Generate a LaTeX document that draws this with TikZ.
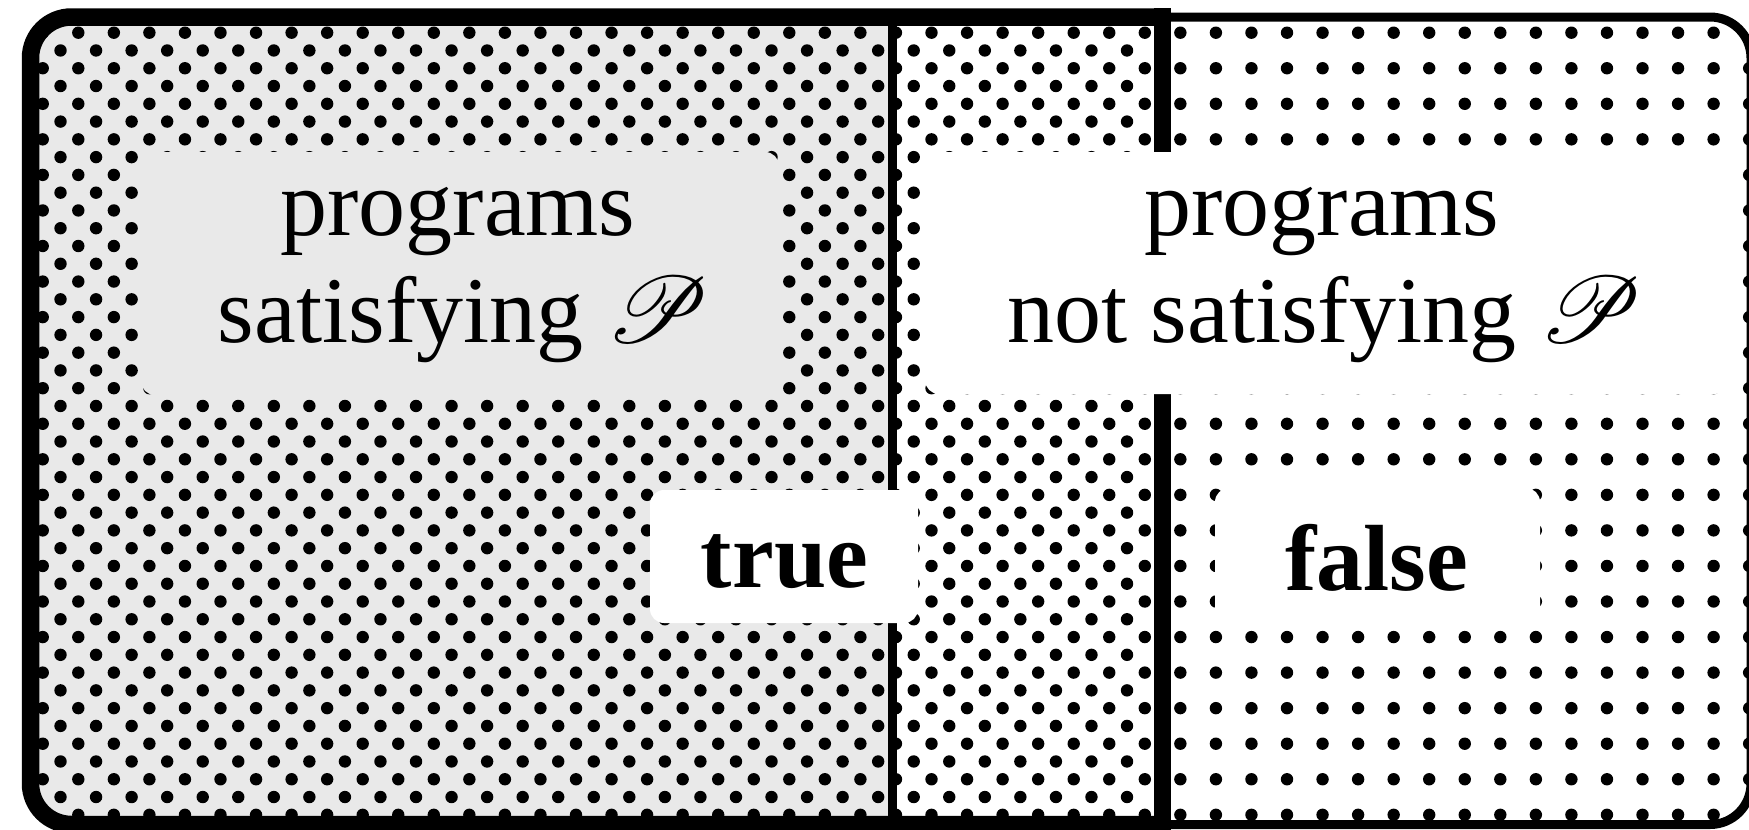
\documentclass[tikz,border=0pt]{standalone}
\usepackage{fontspec}
\setmainfont{Liberation Serif}
\DeclareFontFamily{U}{myrsfs}{\skewchar\font127 }
\DeclareFontShape{U}{myrsfs}{m}{n}{<-> rsfs10}{}
\newcommand\scriptP{{\usefont{U}{myrsfs}{m}{n}P}}
\definecolor{bggray}{RGB}{233,233,233}
\tikzset{
  dotmark/.style={fill=black},
  thinborder/.style={draw=black, line width=9pt},
  thickborder/.style={draw=black, line width=17.5pt},
  labelbox/.style={rectangle, rounded corners=14pt, inner sep=0pt},
  lbl/.style={font=\fontsize{94}{107}\selectfont, inner sep=0pt, anchor=base},
  blbl/.style={font=\fontsize{94}{107}\selectfont\bfseries, inner sep=0pt, anchor=base},
}
\begin{document}
\begin{tikzpicture}[x=1pt,y=-1pt]
\useasboundingbox (0,0) rectangle (1749,830);
\clip (0,0) rectangle (1749,830);
\fill[white] (0,0) rectangle (1749,830);
% regions and dot patterns
\begin{scope}
  \clip[rounded corners=41pt] (30.5,17) rectangle (1751,824.5);
  \fill[bggray] (0,0) rectangle (892.5,830);
  \begin{scope}
    \clip (0,0) rectangle (1162.5,830);
    \foreach \i in {-2,...,31}{
      \foreach \j in {-1,...,23}{
        \fill[dotmark] (78.3+35.55*\i,32.7+35.55*\j) circle[radius=6.2pt];
        \fill[dotmark] (96.075+35.55*\i,50.475+35.55*\j) circle[radius=6.2pt];
      }
    }
  \end{scope}
  \begin{scope}
    \clip (1162.5,0) rectangle (1760,830);
    \foreach \i in {29,...,49}{
      \foreach \j in {-1,...,23}{
        \fill[dotmark] (78.3+35.55*\i,32.7+35.55*\j) circle[radius=6.2pt];
      }
    }
  \end{scope}
\end{scope}
% outer thin border
\draw[thinborder, rounded corners=41pt] (30.5,17) rectangle (1751,824.5);
% thick border of the left set
\begin{scope}
  \clip (0,0) rectangle (1162.5,840);
  \draw[thickborder, rounded corners=41pt] (30.5,17) rectangle (1400,824.5);
\end{scope}
\coordinate (thickTop) at (1162.5,17);
\coordinate (thickBot) at (1162.5,824.5);
\draw[thickborder, line cap=rect] (thickTop) -- (thickBot);
% thin divider
\coordinate (thinTop) at (892.5,17);
\coordinate (thinBot) at (892.5,824.5);
\draw[line width=8.5pt] (thinTop) -- (thinBot);
% label boxes
\node[labelbox, fill=bggray, minimum width=638pt, minimum height=243pt] (boxL) at (460,273.5) {};
\node[labelbox, fill=white, minimum width=803pt, minimum height=242pt] (boxR) at (1326.5,273) {};
\node[labelbox, fill=white, minimum width=268pt, minimum height=133pt] (boxT) at (784,556.5) {};
\node[labelbox, fill=white, minimum width=325pt, minimum height=133pt] (boxF) at (1377.5,554.5) {};
% texts
\node[lbl] (tL1) at (458,235) {programs};
\node[lbl] (tL2) at (460,342) {satisfying \scriptP};
\node[lbl] (tR1) at (1322,235) {programs};
\node[lbl] (tR2) at (1321,342) {not satisfying \scriptP};
\node[blbl] (tT) at (784.5,587) {true};
\node[blbl] (tF) at (1376.5,590) {false};
\end{tikzpicture}
\end{document}
